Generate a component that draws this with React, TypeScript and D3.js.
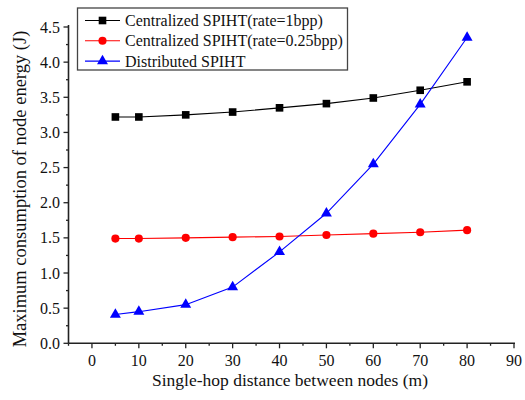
import React from 'react';
import * as d3 from 'd3';

const distances = [5, 10, 20, 30, 40, 50, 60, 70, 80];
const central1bpp = [3.22, 3.22, 3.25, 3.29, 3.35, 3.41, 3.49, 3.6, 3.72];
const central025bpp = [1.49, 1.49, 1.5, 1.51, 1.52, 1.54, 1.56, 1.58, 1.61];
const distributed = [0.41, 0.45, 0.55, 0.8, 1.3, 1.85, 2.55, 3.4, 4.35];

const seriesNames = [
  'Centralized SPIHT(rate=1bpp)',
  'Centralized SPIHT(rate=0.25bpp)',
  'Distributed SPIHT',
];
const seriesColors = ['#000000', '#ff0000', '#0000ff'];
const seriesShapes = [d3.symbolSquare, d3.symbolCircle, d3.symbolTriangle];
const seriesSizes = [58, 52, 52];

const xTicks = [0, 10, 20, 30, 40, 50, 60, 70, 80, 90];
const yTicks = [0, 0.5, 1, 1.5, 2, 2.5, 3, 3.5, 4, 4.5];

const FONT = 'Liberation Serif';
const AXIS = '#222';

export default function App() {
  const x = d3.scaleLinear().domain([-5, 90]).range([68.5, 514]);
  const y = d3.scaleLinear().domain([0, 4.5]).range([343.3, 27]);
  const line = d3.line<number>().x((d, i) => x(distances[i])).y(d => y(d));
  const allSeries = [central1bpp, central025bpp, distributed];
  const yMinor = d3.range(0, 4.51, 0.25);
  const xMinor = d3.range(-5, 90.1, 5);

  return (
    <svg width={525} height={400} fontFamily={FONT} fontSize={16}
      style={{ position: 'absolute', left: 0, top: 0, background: 'white' }}>
      {/* y axis */}
      <g transform={`translate(${x(-5)},0)`}>
        <line y1={y(0)} y2={y(4.5) - 2} stroke={AXIS} strokeWidth={1.6} />
        {yMinor.map(v => {
          const major = Math.abs(v * 2 - Math.round(v * 2)) < 1e-6;
          return <line key={v} x1={0} x2={major ? -5 : -2.5} y1={y(v)} y2={y(v)} stroke={AXIS} strokeWidth={1.3} />;
        })}
        {yTicks.map(v => (
          <text key={v} x={-8.5} y={y(v)} dy="0.35em" textAnchor="end" fill="#111" fontFamily={FONT}>
            {d3.format('.1f')(v)}
          </text>
        ))}
      </g>

      {/* x axis */}
      <g transform={`translate(0,${y(0)})`}>
        <line x1={x(-5)} x2={x(90) + 1} stroke={AXIS} strokeWidth={1.6} />
        {xMinor.map(v => (
          <line key={v} x1={x(v)} x2={x(v)} y1={0} y2={v % 10 === 0 ? 5 : 2.5} stroke={AXIS} strokeWidth={1.3} />
        ))}
        {xTicks.map(v => (
          <text key={v} x={x(v)} y={22.5} textAnchor="middle" fill="#111" fontFamily={FONT}>{v}</text>
        ))}
      </g>

      {/* axis titles */}
      <text x={290} y={386} textAnchor="middle" fill="#111" fontFamily={FONT} fontSize={17.5}>
        Single-hop distance between nodes (m)
      </text>
      <text transform="translate(26,189) rotate(-90)" textAnchor="middle" fill="#111" fontFamily={FONT} fontSize={18.5}>
        Maximum consumption of node energy (J)
      </text>

      {/* series */}
      {allSeries.map((vals, si) => {
        const sym = d3.symbol().type(seriesShapes[si]).size(seriesSizes[si])();
        return (
          <g key={si}>
            <path d={line(vals) || ''} fill="none" stroke={seriesColors[si]} strokeWidth={1.1} />
            {vals.map((v, i) => (
              <path key={i} d={sym || ''} fill={seriesColors[si]}
                transform={`translate(${x(distances[i])},${y(v)})`} />
            ))}
          </g>
        );
      })}

      {/* legend */}
      <g>
        <rect x={77.5} y={8} width={270} height={62} fill="white" stroke="#444" strokeWidth={1.3} />
        {seriesNames.map((name, i) => {
          const ry = 20.5 + i * 20.3;
          const sym = d3.symbol().type(seriesShapes[i]).size(seriesSizes[i])();
          return (
            <g key={name}>
              <line x1={85} x2={120} y1={ry} y2={ry} stroke={seriesColors[i]} strokeWidth={1.1} />
              <path d={sym || ''} fill={seriesColors[i]} transform={`translate(102.5,${ry})`} />
              <text x={125} y={ry} dy="0.35em" fill="#111" fontFamily={FONT}>{name}</text>
            </g>
          );
        })}
      </g>
    </svg>
  );
}
